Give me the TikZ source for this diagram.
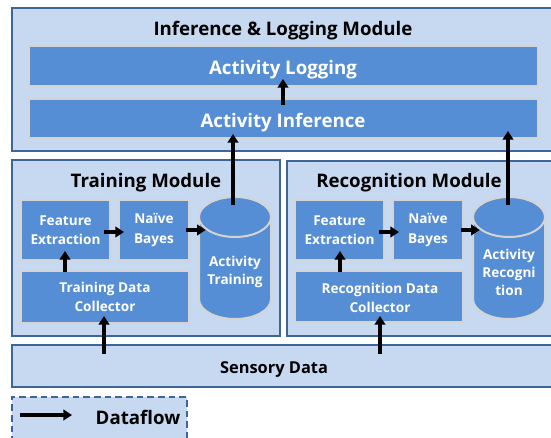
\documentclass[tikz,border=0pt]{standalone}
\usepackage{fontspec}
\setmainfont{Open Sans}
\usetikzlibrary{arrows.meta,fit,calc}
\definecolor{lightbg}{HTML}{C6D9F1}
\definecolor{darkb}{HTML}{3E6597}
\definecolor{midb}{HTML}{558ED5}
\definecolor{grayb}{HTML}{D4D4D4}
\begin{document}
\begin{tikzpicture}[x=0.75pt,y=-0.75pt,
  module/.style={draw=darkb, fill=lightbg, line width=1.9pt, inner sep=0pt},
  legendbox/.style={draw=darkb, fill=lightbg, line width=1.9pt, inner sep=0pt, dash pattern=on 5pt off 3pt},
  innerbox/.style={draw=grayb, fill=midb, line width=1.5pt, inner sep=0pt},
  intext/.style={inner sep=0pt, text=white, align=center, font=\bfseries\fontsize{10.2}{14.5}\selectfont},
  bartext/.style={intext, font=\bfseries\fontsize{14}{16}\selectfont},
  cylfill/.style={draw=grayb, fill=midb, line width=1.5pt},
  cyltext/.style={intext, font=\bfseries\fontsize{10.2}{13.5}\selectfont},
  modtitle/.style={inner sep=0pt, font=\bfseries\fontsize{14}{16}\selectfont},
  flow/.style={line width=2.5pt, -{Triangle[length=6.5pt,width=8pt]}}
]
\useasboundingbox (0,0) rectangle (551,437);
\begin{scope}
\clip (0,0) rectangle (551,437);
% Inference & Logging module
\node[module, fit={(12,8)(560,151)}] (infmod) {};
\node[modtitle] (inftitle) at (283,31) {Inference \& Logging Module};
\node[innerbox, fit={(29,46)(538,86)}] (logging) {};
\node[bartext] (loggingt) at (283,70) {Activity Logging};
\node[innerbox, fit={(29,99)(538,138)}] (inference) {};
\node[bartext] (inferencet) at (283,123) {Activity Inference};

% Training module
\node[module, fit={(12,160)(280,336)}] (trmod) {};
\node[modtitle] (trtitle) at (146,183) {Training Module};
\node[innerbox, fit={(21,200)(110,260)}] (fe1) {};
\node[intext] (fe1t) at (fe1.center) {Feature\\Extraction};
\node[innerbox, fit={(119,200)(189,260)}] (nb1) {};
\node[intext] (nb1t) at (nb1.center) {Naïve\\Bayes};
\node[innerbox, fit={(21,271)(189,323)}] (dc1) {};
\node[intext] (dc1t) at (105,297) {Training Data\\Collector};
\path[cylfill] (199,217) -- (199,299) arc[start angle=180, end angle=0, x radius=36, y radius=20] -- (271,217);
\draw[cylfill] (235,217) ellipse [x radius=36, y radius=20];
\node[inner sep=0pt, fit={(199,197)(271,319)}] (cyl1) {};
\node[cyltext] (cyl1t) at (235,272) {Activity\\Training};

% Recognition module
\node[module, fit={(287,161)(560,336)}] (recmod) {};
\node[modtitle] (rectitle) at (409,183) {Recognition Module};
\node[innerbox, fit={(295,200)(384,260)}] (fe2) {};
\node[intext] (fe2t) at (fe2.center) {Feature\\Extraction};
\node[innerbox, fit={(393,200)(463,260)}] (nb2) {};
\node[intext] (nb2t) at (nb2.center) {Naïve\\Bayes};
\node[innerbox, fit={(295,271)(463,322)}] (dc2) {};
\node[intext] (dc2t) at (380,298) {Recognition Data\\Collector};
\path[cylfill] (473,217) -- (473,299) arc[start angle=180, end angle=0, x radius=36, y radius=20] -- (545,217);
\draw[cylfill] (509,217) ellipse [x radius=36, y radius=20];
\node[inner sep=0pt, fit={(473,197)(545,319)}] (cyl2) {};
\node[cyltext] (cyl2t) at (509,272) {Activity\\Recogni\\tion};

% Sensory data
\node[module, fit={(12,345)(560,387)}] (sensory) {};
\node[modtitle, font=\bfseries\fontsize{12.3}{15}\selectfont] (senst) at (274,370) {Sensory Data};

% Legend
\node[legendbox, fit={(12,397)(187,445)}] (legend) {};
\coordinate (lgA) at (20,415);
\coordinate (lgB) at (72,415);
\node[modtitle] (lgt) at (138,417) {Dataflow};
\end{scope}

% Arrows
\draw[flow] ($(inference.north)+(-0.5,7)$) -- ($(logging.south)+(-0.5,-8)$);
\draw[flow] ($(cyl1.north)+(-2,8)$) -- ($(inference.south)+(-50.5,-5)$);
\draw[flow] ($(cyl2.north)+(-1,8)$) -- ($(inference.south)+(224.5,-8)$);

\draw[flow] ($(fe1.east)+(-7,2)$) -- ($(nb1.west)+(6,2)$);
\draw[flow] ($(nb1.east)+(-4,0)$) -- ($(cyl1.west)+(7,-28)$);
\draw[flow] ($(dc1.north)+(-40,2)$) -- ($(fe1.south)+(-0.5,-10)$);
\draw[flow] ($(sensory.north)+(-182,10)$) -- ($(dc1.south)+(-1,-8)$);

\draw[flow] ($(fe2.east)+(-6,2)$) -- ($(nb2.west)+(7,2)$);
\draw[flow] ($(nb2.east)+(-3,0)$) -- ($(cyl2.west)+(7,-28)$);
\draw[flow] ($(dc2.north)+(-39,2)$) -- ($(fe2.south)+(0.5,-10)$);
\draw[flow] ($(sensory.north)+(94,10)$) -- ($(dc2.south)+(1,-7)$);

\draw[flow] (lgA) -- (lgB);
\end{tikzpicture}
\end{document}
